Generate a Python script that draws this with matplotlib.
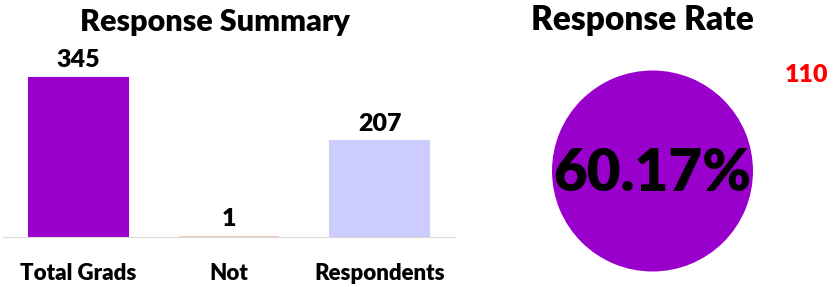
import matplotlib
matplotlib.use("Agg")
import matplotlib.pyplot as plt

# Data
categories = ["Total Grads", "Not", "Respondents"]
counts = [345, 1, 207]
bar_colors = ["#9900CC", "#F8CBAD", "#CCCCFF"]
rate_label = "60.17%"
pie_values = [60.17]
side_label = "110"

plt.rcParams['font.family'] = ['Lato', 'DejaVu Sans']
WT = 'heavy'

fig = plt.figure(figsize=(8.34, 2.87), dpi=100)
W, H = 834, 287

# Bar chart
ax1 = fig.add_axes([3 / W, (H - 237) / H, 452 / W, 197 / H])
x = range(len(categories))
ax1.bar(x, counts, width=0.66, color=bar_colors, edgecolor=bar_colors, linewidth=1.5)
for xi, v in zip(x, counts):
    ax1.text(xi, v + 15, str(v), ha='center', va='bottom', fontsize=18, fontweight=WT)
ax1.set_xlim(-0.5, 2.5)
ax1.set_ylim(0, 427)
ax1.set_xticks(list(x))
ax1.set_xticklabels(categories, fontsize=16, fontweight=WT)
ax1.tick_params(axis='x', length=0, pad=19)
ax1.set_yticks([])
for s in ['top', 'right', 'left']:
    ax1.spines[s].set_visible(False)
ax1.spines['bottom'].set_color('#D9D9D9')
fig.text(215 / W, 1 - 22 / H, "Response Summary", ha='center', va='center',
         fontsize=22, fontweight=WT)

# Pie chart
ax2 = fig.add_axes([552 / W, (H - 272) / H, 201 / W, 202 / H])
ax2.pie(pie_values, colors=["#9900CC"], startangle=90)
ax2.set_xlim(-1, 1)
ax2.set_ylim(-1, 1)
ax2.text(0, -0.02, rate_label, ha='center', va='center', fontsize=42, fontweight=WT)
fig.text(642 / W, 1 - 20 / H, "Response Rate", ha='center', va='center',
         fontsize=24, fontweight=WT)
fig.text(807 / W, 1 - 75 / H, side_label, ha='center', va='center',
         fontsize=18, fontweight=WT, color='#FF0000')

fig.savefig("out.png", dpi=100)
